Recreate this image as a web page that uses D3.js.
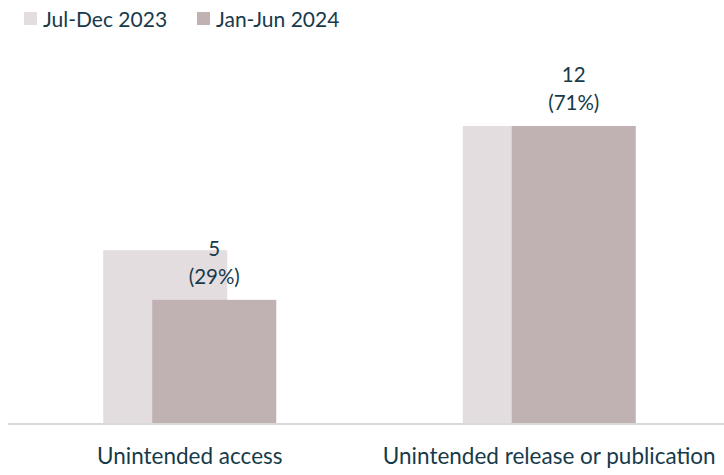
<!DOCTYPE html>
<html>
<head>
<meta charset="utf-8">
<script src="https://cdn.jsdelivr.net/npm/d3@7"></script>
<style>
  html, body { margin: 0; padding: 0; background: #fff; }
  svg { display: block; font-family: "Source Sans Pro", "Lato", "Noto Sans", sans-serif; }
</style>
</head>
<body>
<svg id="chart" width="724" height="475"></svg>
<script>
// Breach categories and counts per half-year
const categories = ["Unintended access", "Unintended release or publication"];
const seriesNames = ["Jul-Dec 2023", "Jan-Jun 2024"];
const julDec2023 = [7, 12];
const janJun2024 = [5, 12];
const janJun2024Share = ["29%", "71%"];

const colors = ["#e4dde0", "#c0b1b3"];
const textColor = "#173a4a";

const svg = d3.select("#chart");
const H = 475;
const bottom = 51;

const x = d3.scaleBand()
  .domain(categories)
  .range([10, 729])
  .paddingInner(0.518)
  .paddingOuter(0.259);

const y = d3.scaleLinear()
  .domain([0, 12])
  .range([H - bottom, 126]);

const barW = 124;
const offset = 49;
const bw = x.bandwidth();
const backX = (d) => x(d) + bw / 2 - (barW + offset) / 2;

// Back series (Jul-Dec 2023)
svg.append("g").selectAll("rect")
  .data(categories)
  .join("rect")
  .attr("x", backX)
  .attr("y", (d, i) => y(julDec2023[i]))
  .attr("width", barW)
  .attr("height", (d, i) => y(0) - y(julDec2023[i]))
  .attr("fill", colors[0]);

// Front series (Jan-Jun 2024)
svg.append("g").selectAll("rect")
  .data(categories)
  .join("rect")
  .attr("x", (d) => backX(d) + offset)
  .attr("y", (d, i) => y(janJun2024[i]))
  .attr("width", barW)
  .attr("height", (d, i) => y(0) - y(janJun2024[i]))
  .attr("fill", colors[1]);

// Value labels above the front bars
const lbl = svg.append("g")
  .attr("fill", textColor)
  .attr("font-size", 20.5)
  .attr("text-anchor", "middle");
categories.forEach((c, i) => {
  const cx = backX(c) + offset + barW / 2;
  const top = y(janJun2024[i]);
  lbl.append("text").attr("x", cx).attr("y", top - 44).text(janJun2024[i]);
  lbl.append("text").attr("x", cx).attr("y", top - 16).text("(" + janJun2024Share[i] + ")");
});

// Baseline and category axis
const axis = svg.append("g")
  .attr("transform", `translate(0,${y(0)})`)
  .call(d3.axisBottom(x).tickSize(0).tickPadding(24));
axis.attr("font-family", null);
axis.select(".domain").attr("stroke", "#d9d9d9").attr("stroke-width", 2)
  .attr("d", "M8,0H724");
axis.selectAll("text")
  .attr("fill", textColor)
  .attr("font-size", 22.5);

// Legend
const legend = svg.append("g").attr("font-size", 21).attr("fill", textColor);
const legendX = [24, 197];
seriesNames.forEach((s, i) => {
  legend.append("rect")
    .attr("x", legendX[i]).attr("y", 12)
    .attr("width", 13).attr("height", 13)
    .attr("fill", colors[i]);
  legend.append("text")
    .attr("x", legendX[i] + 19).attr("y", 26.5)
    .text(s);
});
</script>
</body>
</html>
